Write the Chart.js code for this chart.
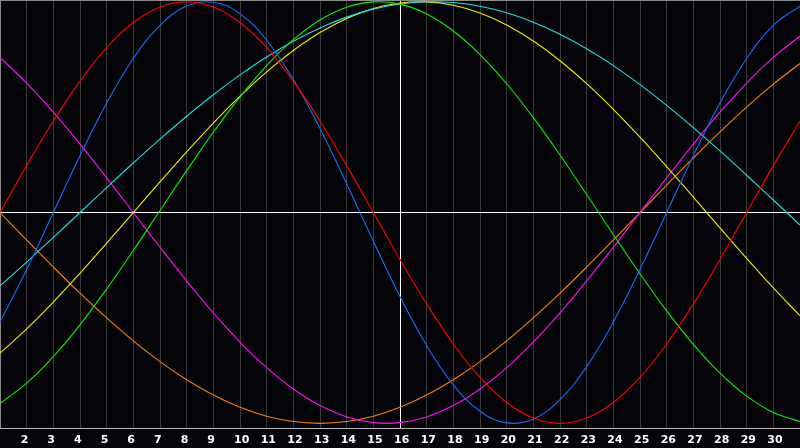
<!DOCTYPE html>
<html>
<head>
<meta charset="utf-8">
<script src="https://cdn.jsdelivr.net/npm/chart.js@4.4.1/dist/chart.umd.min.js"></script>
<style>
  html, body { margin: 0; padding: 0; background: #050408; }
  #wrap { width: 800px; height: 448px; }
</style>
</head>
<body>
<div id="wrap"><canvas id="c" width="800" height="448"></canvas></div>
<script>
// Days 1..31 (labels shown 2..30)
const days = [1,2,3,4,5,6,7,8,9,10,11,12,13,14,15,16,17,18,19,20,21,22,23,24,25,26,27,28,29,30,31];

const redVals = [0,0.2225,0.4339,0.6235,0.7818,0.9010,0.9749,1,0.9749,0.9010,0.7818,0.6235,0.4339,0.2225,0,-0.2225,-0.4339,-0.6235,-0.7818,-0.9010,-0.9749,-1,-0.9749,-0.9010,-0.7818,-0.6235,-0.4339,-0.2225,0,0.2225,0.4339];
const blueVals = [-0.5197,-0.2698,0,0.2698,0.5196,0.7308,0.8879,0.9791,0.9977,0.9423,0.8170,0.6311,0.3984,0.1362,-0.1362,-0.3984,-0.6311,-0.8170,-0.9423,-0.9977,-0.9791,-0.8879,-0.7308,-0.5196,-0.2698,0,0.2698,0.5196,0.7308,0.8879,0.9791];
const greenVals = [-0.9056,-0.8090,-0.6832,-0.5326,-0.3628,-0.1799,0.0095,0.1986,0.3805,0.5485,0.6969,0.8199,0.9135,0.9740,0.9993,0.9884,0.9418,0.8611,0.7494,0.6108,0.4498,0.2726,0.0856,-0.1045,-0.2909,-0.4666,-0.6254,-0.7622,-0.8708,-0.9480,-0.9911];
const cyanVals = [-0.3482,-0.2349,-0.1183,0,0.1183,0.2349,0.3482,0.4566,0.5587,0.6527,0.7380,0.8125,0.8757,0.9267,0.9647,0.9890,0.9996,0.9961,0.9786,0.9473,0.9028,0.8457,0.7767,0.6968,0.6069,0.5085,0.4030,0.2920,0.1769,0.0593,-0.0593];
const yellowVals = [-0.6671,-0.5517,-0.4245,-0.2881,-0.1456,0,0.1456,0.2881,0.4245,0.5517,0.6671,0.7684,0.8536,0.9204,0.9675,0.9940,0.9993,0.9834,0.9465,0.8894,0.8133,0.7200,0.6111,0.4894,0.3572,0.2174,0.0730,-0.0730,-0.2174,-0.3572,-0.4894];
const magentaVals = [0.7357,0.6142,0.4759,0.3247,0.1646,0,-0.1646,-0.3247,-0.4759,-0.6142,-0.7357,-0.8372,-0.9158,-0.9694,-0.9966,-0.9966,-0.9694,-0.9158,-0.8372,-0.7357,-0.6142,-0.4759,-0.3247,-0.1646,0,0.1646,0.3247,0.4759,0.6142,0.7357,0.8372];
const orangeVals = [0,-0.1305,-0.2588,-0.3827,-0.5,-0.6088,-0.7071,-0.7934,-0.8660,-0.9239,-0.9659,-0.9914,-1,-0.9914,-0.9659,-0.9239,-0.8660,-0.7934,-0.7071,-0.6088,-0.5,-0.3827,-0.2588,-0.1305,0,0.1305,0.2588,0.3827,0.5,0.6088,0.7071];

const firstLabel = 2, lastLabel = 30, markedDay = 16;

function pts(vals) { return days.map((d, i) => ({ x: d, y: vals[i] })); }
function ds(vals, color) {
  return { data: pts(vals), borderColor: color, borderWidth: 1.1, pointRadius: 0, tension: 0.4, fill: false };
}

const bgPlugin = {
  id: 'bg',
  beforeDraw(chart) {
    const ctx = chart.ctx;
    ctx.save();
    ctx.fillStyle = '#050408';
    ctx.fillRect(0, 0, chart.width, chart.height);
    ctx.restore();
  }
};

new Chart(document.getElementById('c'), {
  type: 'line',
  data: {
    datasets: [
      ds(redVals, '#ff0000'),
      ds(blueVals, '#1a6cff'),
      ds(greenVals, '#10ee10'),
      ds(cyanVals, '#20e0e0'),
      ds(yellowVals, '#f0f000'),
      ds(magentaVals, '#ff10ff'),
      ds(orangeVals, '#ff8010')
    ]
  },
  options: {
    responsive: false,
    animation: false,
    devicePixelRatio: 1,
    layout: { padding: 0, autoPadding: false },
    plugins: { legend: { display: false }, tooltip: { enabled: false } },
    scales: {
      x: {
        type: 'linear',
        min: days[0],
        max: days[days.length - 1],
        afterFit(s) { s.height = 20; s.paddingLeft = 0; s.paddingRight = 0; },
        ticks: {
          stepSize: 1,
          autoSkip: false,
          maxRotation: 0,
          align: 'start',
          labelOffset: -6,
          padding: 6,
          color: '#ffffff',
          font: { family: 'DejaVu Sans', size: 11, weight: 'bold' },
          callback: v => (v >= firstLabel && v <= lastLabel) ? String(v) : ''
        },
        grid: {
          drawTicks: false,
          lineWidth: 1,
          color: c => c.tick && c.tick.value === markedDay ? '#ffffff' : (c.tick && c.tick.value === days[0] ? '#8a8a8a' : '#3a3a3a')
        },
        border: { display: true, color: '#b8b8b8', width: 1 }
      },
      y: {
        min: -1.022,
        max: 1.008,
        afterFit(s) { s.width = 0; s.paddingTop = 0; s.paddingBottom = 0; },
        ticks: { display: false, stepSize: 0.5 },
        grid: {
          drawTicks: false,
          lineWidth: 1,
          color: c => c.tick && c.tick.value === 0 ? '#ffffff' : (c.tick && c.tick.value === 1.008 ? '#8a8a8a' : 'rgba(0,0,0,0)')
        },
        border: { display: false }
      }
    }
  },
  plugins: [bgPlugin]
});
</script>
</body>
</html>
